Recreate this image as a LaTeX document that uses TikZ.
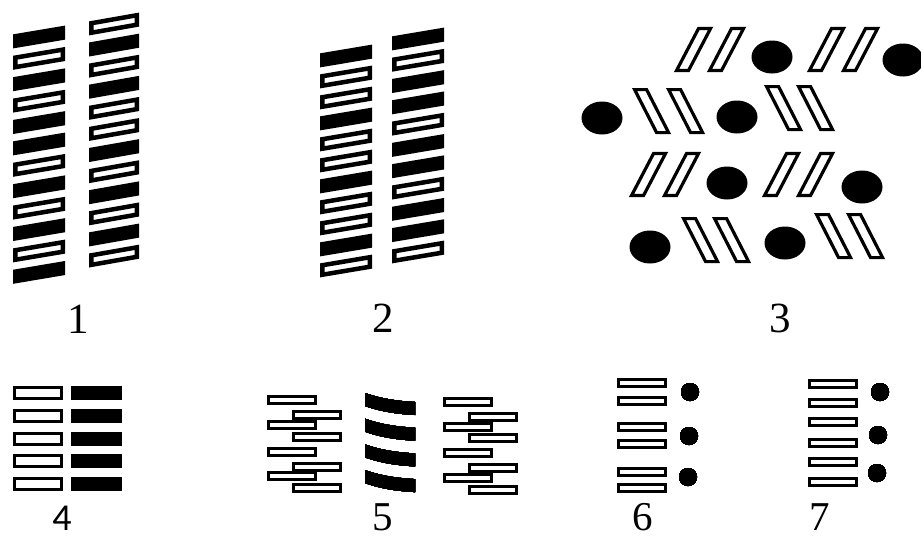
\documentclass[tikz,border=0pt]{standalone}
\usepackage{fontspec}
\setmainfont{Liberation Serif}
\newfontfamily\fourfont{Carlito}

% slanted slat: left x, top y, outer width, fill
\newcommand{\slat}[4]{\filldraw[slat, fill=#4] (#1+2.25,#2+2.25) -- ++(#3-4.5,-8) -- ++(0,9.5) -- ++(4.5-#3,8) -- cycle;}
% rods leaning right (fwd) and left (bck)
\newcommand{\fwd}[2]{\filldraw[rod] (#1+1.6,#2-1.6) -- ++(12,0) -- ++(22,-42) -- ++(-12,0) -- cycle;}
\newcommand{\bck}[2]{\filldraw[rod] (#1+1.6,#2+1.6) -- ++(12,0) -- ++(22,43) -- ++(-12,0) -- cycle;}
\newcommand{\brick}[2]{\draw[bar] (#1+1.3,#2+1.3) rectangle ++(47.4,7.4);}

\begin{document}
\begin{tikzpicture}[x=1pt, y=-1pt,
    slat/.style = {draw=black, line width=4.5pt},
    rod/.style = {draw=black, fill=white, line width=3.2pt},
    bar/.style = {draw=black, fill=white, line width=2.6pt},
    box/.style = {draw=black, fill=white, line width=3pt},
    num/.style = {anchor=base, inner sep=0pt, text depth=0pt, font=\fontsize{43}{43}\selectfont},
    low/.style = {num, font=\fontsize{41}{41}\selectfont}]
\useasboundingbox (0,0) rectangle (921,539);

\foreach \c [count=\i from 0] in {black,white,black,white,black,black,white,black,white,black,white,black}
    \slat{13}{34+21.4*\i}{52}{\c};
\foreach \c [count=\i from 0] in {white,black,white,black,white,white,black,white,black,white,black,white}
    \slat{89}{21+21.1*\i}{50}{\c};

\foreach \c [count=\i from 0] in {black,white,white,black,white,white,black,white,white,black,white}
    \slat{320}{53+21*\i}{52}{\c};
\foreach \c [count=\i from 0] in {black,white,black,black,white,black,black,white,black,black,white}
    \slat{392}{36+21.3*\i}{52}{\c};

\fwd{675}{72} \fwd{708}{72} \fwd{808}{72} \fwd{842}{72}
\bck{633}{88} \bck{667}{88} \bck{765}{85} \bck{797}{85}
\fwd{630}{197} \fwd{663}{197} \fwd{763}{197} \fwd{797}{197}
\bck{682}{217} \bck{713}{217} \bck{815}{213} \bck{847}{213}
\foreach \p in {(772,57),(903,60),(602,118),(737,117),(727,183),(862,187),(650,247),(785,243)}
    \fill \p ellipse [x radius=20.5pt, y radius=16.5pt];

\foreach \i in {0,...,4} {
    \draw[box] (14.5,387.5+22.8*\i) rectangle ++(47,11);
    \fill (71,386+22.8*\i) rectangle ++(51,14);
}

\foreach \x/\y in {267/395,292/410,267/420,292/432,267/447,292/462,267/471,292/483,
                   443/397,468/412,443/422,468/433,443/448,468/463,443/473,468/485}
    \brick{\x}{\y}
\foreach \i [evaluate=\i as \y using 393+25.7*\i] in {0,...,3}
    \fill (365,\y) .. controls (382,\y+6) and (398,\y+8) .. (415,\y+9) -- (415,\y+22)
        .. controls (398,\y+21) and (382,\y+19) .. (365,\y+13) -- cycle;

\foreach \y in {378,396,422,439,467,483} \brick{617}{\y}
\foreach \y in {379,398,417,438,457,477} \brick{808}{\y}
\foreach \p in {(690,392),(689,436),(688,477),(880,392),(878,435),(877,473)}
    \fill \p circle [radius=9pt];

\node[num] (n1) at (78,333) {1};
\node[num] (n2) at (383,332) {2};
\node[num] (n3) at (780,332) {3};
\node[num, font=\fourfont\fontsize{38}{38}\selectfont] (n4) at (62,530) {4};
\node[low] (n5) at (383,530) {5};
\node[low] (n6) at (643,530) {6};
\node[low] (n7) at (820,530) {7};
\end{tikzpicture}
\end{document}
